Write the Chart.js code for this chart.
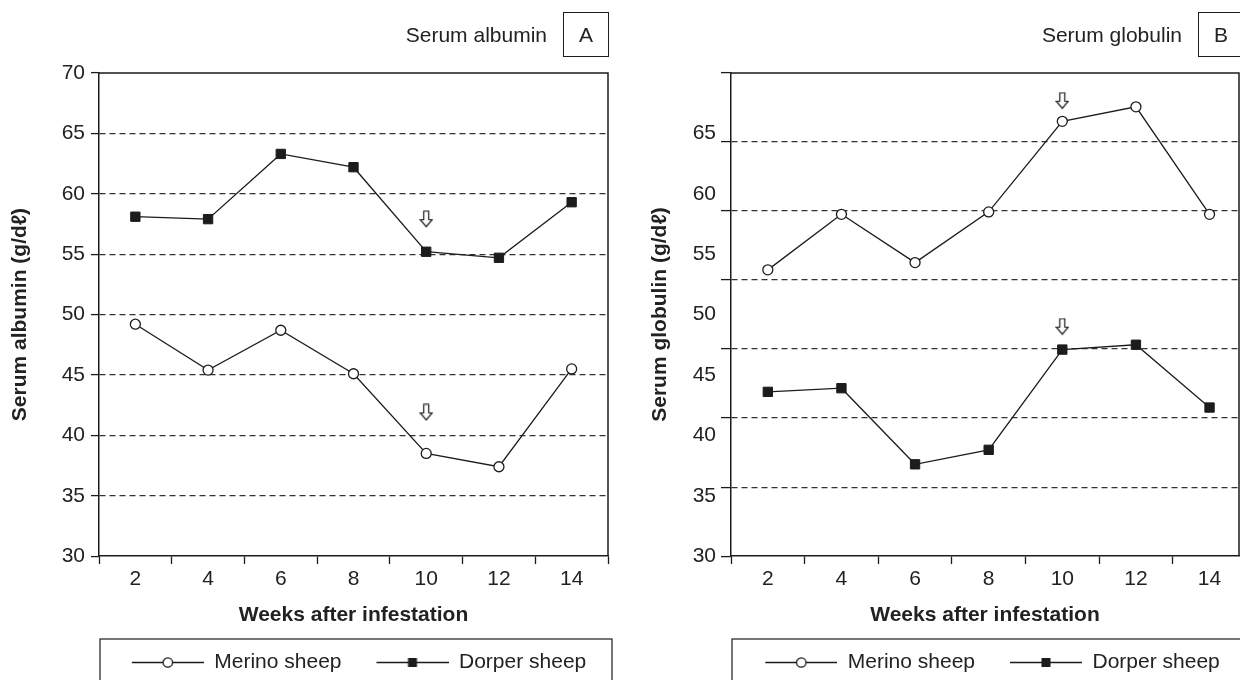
<!DOCTYPE html>
<html lang="en">
<head>
<meta charset="UTF-8">
<title>Serum albumin and globulin</title>
<style>
  * { box-sizing: border-box; margin: 0; padding: 0; }
  html, body { width: 1240px; height: 680px; overflow: hidden; background: #fff; }
  body { font-family: "Liberation Sans", Arial, sans-serif; color: #222; position: relative; }
  .panel { position: absolute; top: 0; width: 620px; height: 680px; }
  #panelA { left: 0; }
  #panelB { left: 620px; }
  .panel canvas { position: absolute; left: 0; top: 0; }
  .tag { position: absolute; top: 12px; height: 45px; display: flex; align-items: center; font-size: 21px; z-index: 2; }
  .tag .box { border: 1.5px solid #1c1c1c; width: 46px; height: 45px; display: flex; align-items: center; justify-content: center; margin-left: 16px; }
</style>
</head>
<body>
<div class="panel" id="panelA">
  <div class="tag" style="right:11px">Serum albumin<span class="box">A</span></div>
  <canvas id="chartA" width="620" height="680"></canvas>
</div>
<div class="panel" id="panelB">
  <div class="tag" style="right:-4px">Serum globulin<span class="box">B</span></div>
  <canvas id="chartB" width="620" height="680"></canvas>
</div>
<script src="https://cdn.jsdelivr.net/npm/chart.js@4.4.0/dist/chart.umd.min.js"></script>
<script>
// ── Data ────────────────────────────────────────────────────────────────────
const weeks = [2, 4, 6, 8, 10, 12, 14];
const oddWeeks = [1, 3, 5, 7, 9, 11, 13, 15];          // x tick marks between labels
const seriesNames = ["Merino sheep", "Dorper sheep"];

const albuminMerino = [49.2, 45.4, 48.7, 45.1, 38.5, 37.4, 45.5];
const albuminDorper = [58.1, 57.9, 63.3, 62.2, 55.2, 54.7, 59.3];
const albuminArrows = [57.9, 41.9];                     // open arrows at week 10
const albuminTicks = [30, 35, 40, 45, 50, 55, 60, 65, 70];

const globulinMerino = [53.7, 58.3, 54.3, 58.5, 66.0, 67.2, 58.3];
const globulinDorper = [43.6, 43.9, 37.6, 38.8, 47.1, 47.5, 42.3];
const globulinArrows = [67.7, 49.0];
const globulinTicks = [30, 35, 40, 45, 50, 55, 60, 65];
// panel B's dashed lines do not sit on its labels: 7 even steps of 30–70
const globulinGridLines = [30, 35.71, 41.43, 47.14, 52.86, 58.57, 64.29, 70];

const arrowWeek = 10;

// ── Styling helpers ─────────────────────────────────────────────────────────
const INK = "#1c1c1c";
const CLEAR = "rgba(0,0,0,0)";
Chart.defaults.font.family = '"Liberation Sans", "DejaVu Sans", Arial, sans-serif';
Chart.defaults.font.size = 21;
Chart.defaults.color = "#222";

function legendImage(kind) {
  const c = document.createElement("canvas");
  c.width = 97; c.height = 16;
  const g = c.getContext("2d");
  g.strokeStyle = INK; g.lineWidth = 1.3;
  g.beginPath(); g.moveTo(25, 8.5); g.lineTo(97, 8.5); g.stroke();
  if (kind === "circle") {
    g.fillStyle = "#fff";
    g.beginPath(); g.arc(61, 8.5, 4.7, 0, Math.PI * 2); g.fill(); g.stroke();
  } else {
    g.fillStyle = INK; g.fillRect(56.5, 4, 9, 9);
  }
  return c;
}

function arrowImage() {
  const c = document.createElement("canvas");
  c.width = 14; c.height = 18;
  const g = c.getContext("2d");
  g.strokeStyle = INK; g.lineWidth = 1.2; g.fillStyle = "#fff";
  g.beginPath();
  g.moveTo(4.5, 1); g.lineTo(9.5, 1); g.lineTo(9.5, 9.5); g.lineTo(13, 9.5);
  g.lineTo(7, 16.5); g.lineTo(1, 9.5); g.lineTo(4.5, 9.5); g.closePath();
  g.fill(); g.stroke();
  return c;
}

const legendImages = [legendImage("circle"), legendImage("rect")];
const arrowImg = arrowImage();

const toPoints = (vals) => weeks.map((w, i) => ({ x: w, y: vals[i] }));

// frame on top/right, boxed legend, legend centred on the plot
const outlinePlugin = {
  id: "outline",
  afterLayout(chart, args, opts) {
    const a = chart.chartArea;
    chart.legend.left = a.left + opts.legendShift;
    chart.legend.right = a.right + opts.legendShift;
  },
  afterDraw(chart) {
    const { ctx, chartArea: a, legend } = chart;
    ctx.save();
    ctx.strokeStyle = INK;
    ctx.lineWidth = 1.5;
    ctx.beginPath();
    ctx.moveTo(a.left, a.top); ctx.lineTo(a.right, a.top); ctx.lineTo(a.right, a.bottom);
    ctx.stroke();
    ctx.lineWidth = 1.2;
    ctx.strokeRect(a.left + 1, legend.top - 2.5, a.right - a.left + 3, chart.height);
    ctx.restore();
  }
};

function titleOpts(text, padTop) {
  return { display: true, text, color: "#222",
    font: { weight: "bold", size: 21, lineHeight: 1.2 }, padding: { top: padTop, bottom: 0 } };
}

function makePanel(id, p) {
  const datasets = [
    { label: seriesNames[0], data: toPoints(p.merino), borderColor: INK, borderWidth: 1.3,
      pointStyle: "circle", pointRadius: 5, pointBackgroundColor: "#fff",
      pointBorderColor: INK, pointBorderWidth: 1.3, tension: 0 },
    { label: seriesNames[1], data: toPoints(p.dorper), borderColor: INK, borderWidth: 1.3,
      pointStyle: "rect", pointRadius: 6.6, pointBackgroundColor: INK,
      pointBorderColor: INK, pointBorderWidth: 1, tension: 0 },
    { label: "arrows", data: p.arrows.map((v) => ({ x: arrowWeek, y: v })), showLine: false,
      pointStyle: arrowImg, pointRadius: 8 }
  ];

  const scales = {
    x: {
      type: "linear", min: 1, max: p.xMax,
      afterBuildTicks: (s) => {
        s.ticks = [...oddWeeks, ...weeks].filter((v) => v <= s.max).sort((a, b) => a - b).map((v) => ({ value: v }));
      },
      afterFit: (s) => { s.paddingLeft = 0; s.paddingRight = 0; },
      ticks: { padding: 3, autoSkip: false, maxRotation: 0,
        callback: (v) => (weeks.includes(v) ? String(v) : "") },
      grid: { drawOnChartArea: false, tickLength: 8, tickWidth: 1.3,
        tickColor: (c) => (weeks.includes(c.tick.value) ? CLEAR : INK) },
      border: { color: INK, width: 1.5 },
      title: { display: true, text: "Weeks after infestation", color: "#222",
        font: { weight: "bold", size: 21, lineHeight: 1.2 }, padding: { top: 7, bottom: 14 } }
    }
  };

  if (p.gridLines) {
    scales.y = {
      position: "left", weight: 1, min: 30, max: 70,
      afterBuildTicks: (s) => { s.ticks = p.ticks.map((v) => ({ value: v })); },
      afterFit: (s) => { s.width = p.axisWidth - 10; },
      ticks: { padding: 5 },
      grid: { display: false, drawTicks: false },
      border: { display: false },
      title: titleOpts(p.yTitle, p.titlePad)
    };
    scales.y2 = {
      position: "left", weight: 0, min: 30, max: 70,
      afterBuildTicks: (s) => { s.ticks = p.gridLines.map((v) => ({ value: v })); },
      afterFit: (s) => { s.width = 10; },
      ticks: { display: false },
      grid: { lineWidth: 1.2, tickLength: 10, tickColor: INK, tickWidth: 1.3,
        color: (c) => (c.index === 0 || c.index === p.gridLines.length - 1 ? CLEAR : "#333") },
      border: { color: INK, width: 1.5, dash: [6, 4] }
    };
  } else {
    scales.y = {
      position: "left", min: 30, max: 70,
      afterBuildTicks: (s) => { s.ticks = p.ticks.map((v) => ({ value: v })); },
      afterFit: (s) => { s.width = p.axisWidth; },
      ticks: { padding: 6 },
      grid: { lineWidth: 1.2, tickLength: 8, tickColor: INK, tickWidth: 1.3,
        color: (c) => (c.tick.value === 30 || c.tick.value === 70 ? CLEAR : "#333") },
      border: { color: INK, width: 1.5, dash: [6, 4] },
      title: titleOpts(p.yTitle, p.titlePad)
    };
  }

  return new Chart(document.getElementById(id), {
    type: "line",
    data: { datasets },
    plugins: [outlinePlugin],
    options: {
      responsive: false,
      animation: false,
      events: [],
      clip: false,
      layout: { autoPadding: false, padding: { top: 73, right: p.padRight, left: 0, bottom: -2.5 } },
      scales,
      plugins: {
        outline: { legendShift: p.legendShift },
        tooltip: { enabled: false },
        legend: {
          position: "bottom",
          labels: {
            usePointStyle: true, pointStyleWidth: 97, padding: 10, color: "#222",
            font: { size: 21 },
            generateLabels: (chart) =>
              Chart.defaults.plugins.legend.labels.generateLabels(chart)
                .filter((it) => it.datasetIndex < 2)
                .map((it) => Object.assign(it, { pointStyle: legendImages[it.datasetIndex] }))
          }
        }
      }
    }
  });
}

makePanel("chartA", {
  merino: albuminMerino, dorper: albuminDorper, arrows: albuminArrows,
  ticks: albuminTicks, yTitle: "Serum albumin (g/d\u2113)",
  xMax: 15, axisWidth: 99, titlePad: 7.4, padRight: 12, legendShift: -7
});

makePanel("chartB", {
  merino: globulinMerino, dorper: globulinDorper, arrows: globulinArrows,
  ticks: globulinTicks, gridLines: globulinGridLines, yTitle: "Serum globulin (g/d\u2113)",
  xMax: 14.8, axisWidth: 111, titlePad: 27.4, padRight: 1, legendShift: -5
});
</script>
</body>
</html>
